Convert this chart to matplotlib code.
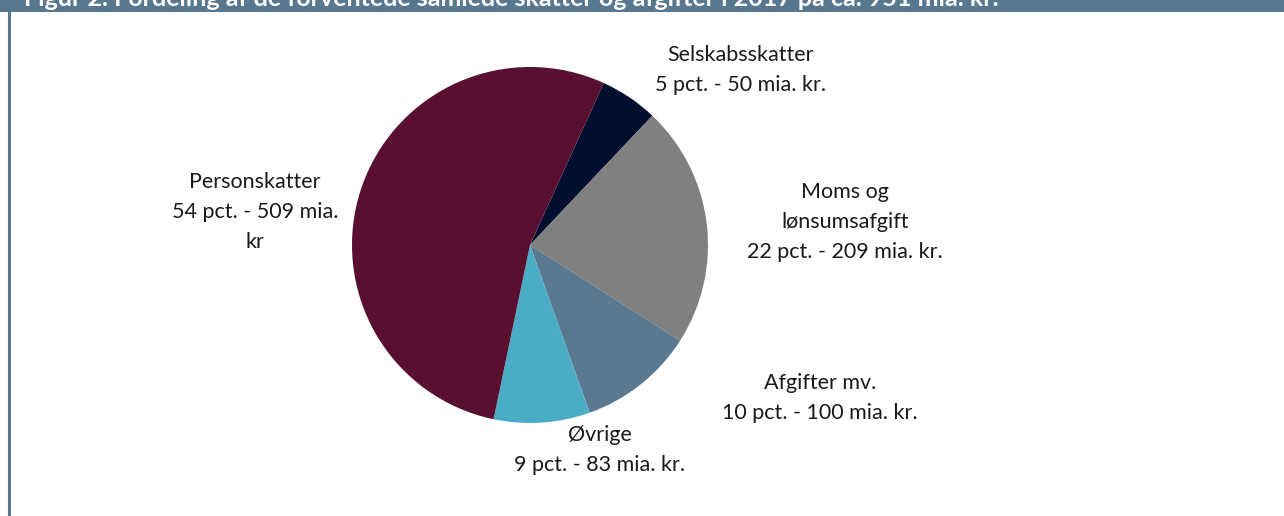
import matplotlib
matplotlib.use("Agg")
import matplotlib.pyplot as plt
from matplotlib.patches import Rectangle
from matplotlib.lines import Line2D

# Data: skatter og afgifter 2017 (mia. kr.)
categories = ["Selskabsskatter", "Moms og\nlønsumsafgift", "Afgifter mv.", "Øvrige", "Personskatter"]
values = [50, 209, 100, 83, 509]
pct_labels = ["5 pct. - 50 mia. kr.", "22 pct. - 209 mia. kr.", "10 pct. - 100 mia. kr.",
              "9 pct. - 83 mia. kr.", "54 pct. - 509 mia.\nkr"]
colors = ["#000F2F", "#808080", "#5A788F", "#4BACC6", "#580F30"]
title = "Figur 2. Fordeling af de forventede samlede skatter og afgifter i 2017 på ca. 951 mia. kr."

W, H = 1284, 516
plt.rcParams['font.family'] = ['Lato', 'DejaVu Sans']
fig = plt.figure(figsize=(W / 100, H / 100), dpi=100)

# pie placed by pixel geometry: centre (530, 245), radius 178
cx, cy, r = 530, 245, 178
ax = fig.add_axes([(cx - r) / W, (H - cy - r) / H, 2 * r / W, 2 * r / H])
ax.pie(values, colors=colors, startangle=65.5, counterclock=False, radius=1,
       wedgeprops=dict(linewidth=0))
ax.set_xlim(-1, 1)
ax.set_ylim(-1, 1)
ax.set_aspect('equal')
ax.axis('off')

# label centres in pixels
label_pos = [(741, 70), (845, 222), (820, 398), (600, 450), (255, 212)]
for cat, pl, (x, y) in zip(categories, pct_labels, label_pos):
    fig.text(x / W, 1 - y / H, cat + "\n" + pl, ha='center', va='center', fontsize=15.5,
             color='#1a1a1a', linespacing=1.6)

# title band (cut at top) and left frame line
band = "#587890"
fig.add_artist(Rectangle((0, 1 - 12 / H), 1, 12 / H, transform=fig.transFigure,
                         facecolor=band, edgecolor='none'))
fig.add_artist(Line2D([9 / W, 9 / W], [0, 1 - 11 / H], transform=fig.transFigure,
                      color=band, linewidth=2.2))
fig.text(24 / W, 1 - 6 / H, title, ha='left', va='baseline', fontsize=18,
         fontweight='bold', color='white')

fig.savefig("out.png", dpi=100)
